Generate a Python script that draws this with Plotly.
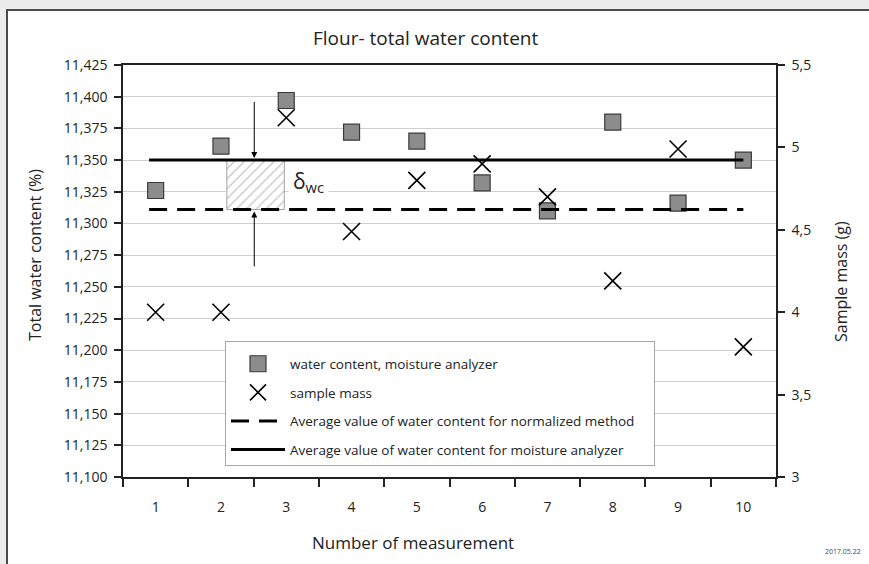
import plotly.graph_objects as go

measurements = [1, 2, 3, 4, 5, 6, 7, 8, 9, 10]
water_content = [11.326, 11.361, 11.397, 11.372, 11.365, 11.332, 11.310, 11.380, 11.316, 11.350]
sample_mass = [4.00, 4.00, 5.18, 4.49, 4.80, 4.90, 4.70, 4.19, 4.99, 3.79]
avg_normalized = 11.311
avg_analyzer = 11.350
line_x = [0.9, 10.0]
rect_x = [2.09, 2.97]
arrow_x = 2.51
arrow_top = 11.397
arrow_bottom = 11.265

FONT = "Open Sans"
W, H = 869, 564
L, R, T, B = 123, 93, 65, 87
PW, PH = W - L - R, H - T - B

def px(x):
    return (x - L) / PW

def py(y):
    return (H - B - y) / PH

fig = go.Figure()

# hatched delta rectangle
fig.add_trace(go.Scatter(
    x=[rect_x[0], rect_x[1], rect_x[1], rect_x[0], rect_x[0]],
    y=[avg_normalized, avg_normalized, avg_analyzer, avg_analyzer, avg_normalized],
    mode="lines", fill="toself", fillcolor="white",
    fillpattern=dict(shape="/", fgcolor="#8a8a8a", bgcolor="white", size=7, solidity=0.18),
    line=dict(color="#a0a0a0", width=1), showlegend=False, hoverinfo="skip"))

fig.add_trace(go.Scatter(
    x=measurements, y=water_content, mode="markers", name="water content, moisture analyzer",
    marker=dict(symbol="square", size=16, color="#8c8c8c", line=dict(color="#3a3a3a", width=1.2)),
    legendgroup="a"))

fig.add_trace(go.Scatter(
    x=measurements, y=sample_mass, mode="markers", name="sample mass", yaxis="y2",
    marker=dict(symbol="x-thin-open", size=17, color="black", line=dict(color="black", width=1.6)),
    legendgroup="b"))

fig.add_trace(go.Scatter(
    x=line_x, y=[avg_normalized, avg_normalized], mode="lines",
    name="Average value of water content for normalized method\u00a0\u00a0\u00a0\u00a0",
    line=dict(color="black", width=3, dash="18px,10px"), legendgroup="c"))

fig.add_trace(go.Scatter(
    x=line_x, y=[avg_analyzer, avg_analyzer], mode="lines",
    name="Average value of water content for moisture analyzer",
    line=dict(color="black", width=3), legendgroup="d"))

annotations = [
    dict(x=arrow_x, y=avg_analyzer, ax=arrow_x, ay=arrow_top, xref="x", yref="y",
         axref="x", ayref="y", showarrow=True, arrowhead=2, arrowsize=1.2, arrowwidth=1,
         arrowcolor="black", standoff=2, text=""),
    dict(x=arrow_x, y=avg_normalized, ax=arrow_x, ay=arrow_bottom, xref="x", yref="y",
         axref="x", ayref="y", showarrow=True, arrowhead=2, arrowsize=1.2, arrowwidth=1,
         arrowcolor="black", standoff=2, text=""),
    dict(x=3.03, y=11.333, xref="x", yref="y", xanchor="left", yanchor="middle",
         text="δ<sub>wc</sub>", showarrow=False, bgcolor="white", borderpad=4,
         font=dict(family=FONT, size=21, color="#222")),
    dict(x=px(425), y=py(38), xref="paper", yref="paper", xanchor="center", yanchor="middle",
         text="Flour- total water content", showarrow=False,
         font=dict(family=FONT, size=19, color="#222")),
    dict(x=px(413), y=py(542), xref="paper", yref="paper", xanchor="center", yanchor="middle",
         text="Number of measurement", showarrow=False,
         font=dict(family=FONT, size=17, color="#222")),
    dict(x=px(35), y=py(255), xref="paper", yref="paper", xanchor="center", yanchor="middle",
         text="Total water content (%)", showarrow=False, textangle=-90,
         font=dict(family=FONT, size=16, color="#222")),
    dict(x=px(841), y=py(282), xref="paper", yref="paper", xanchor="center", yanchor="middle",
         text="Sample mass (g)", showarrow=False, textangle=-90,
         font=dict(family=FONT, size=16, color="#222")),
    dict(x=px(843), y=py(551), xref="paper", yref="paper", xanchor="center", yanchor="middle",
         text="2017.05.22", showarrow=False, font=dict(family=FONT, size=7, color="#444")),
]

shapes = [
    dict(type="rect", xref="paper", yref="paper", x0=px(0), x1=px(W), y0=py(9), y1=py(0),
         fillcolor="#ececec", line=dict(width=0), layer="below"),
    dict(type="rect", xref="paper", yref="paper", x0=px(0), x1=px(6), y0=py(H), y1=py(0),
         fillcolor="#ececec", line=dict(width=0), layer="below"),
    dict(type="rect", xref="paper", yref="paper", x0=px(7), x1=px(W + 20), y0=py(H + 20), y1=py(10),
         fillcolor="rgba(0,0,0,0)", line=dict(color="#4a4a4a", width=2)),
]

fig.update_layout(
    width=W, height=H,
    margin=dict(l=L, r=R, t=T, b=B),
    paper_bgcolor="white", plot_bgcolor="white",
    separators=",.",
    font=dict(family=FONT, size=14, color="#222"),
    showlegend=True,
    legend=dict(x=px(225), y=py(341), xanchor="left", yanchor="top",
                bgcolor="white", bordercolor="#a8a8a8", borderwidth=1,
                font=dict(family=FONT, size=13.5, color="#222"),
                title=dict(text=" ", font=dict(size=5)),
                traceorder="grouped", tracegroupgap=8, itemwidth=54),
    xaxis=dict(range=[0.5, 10.5], tickvals=measurements, ticks="", showgrid=False,
               zeroline=False, showline=True, linecolor="#222", linewidth=1.5, mirror=True,
               ticklabelstandoff=16,
               minor=dict(tickmode="linear", tick0=0.5, dtick=1, ticks="outside", ticklen=8,
                          tickwidth=1.5, tickcolor="#222", showgrid=False)),
    yaxis=dict(range=[11.1, 11.425], dtick=0.025, tick0=11.1, tickformat=".3f",
               ticks="outside", ticklen=7, tickwidth=1.5, tickcolor="#222",
               showgrid=True, gridcolor="#cfcfcf", gridwidth=1, zeroline=False,
               showline=True, linecolor="#222", linewidth=1.5, ticklabelstandoff=4),
    yaxis2=dict(range=[3, 5.5], dtick=0.5, tick0=3, overlaying="y", side="right",
                ticks="outside", ticklen=7, tickwidth=1.5, tickcolor="#222",
                showgrid=False, zeroline=False, showline=True, linecolor="#222", linewidth=1.5,
                ticklabelstandoff=4),
    annotations=annotations,
    shapes=shapes,
)

fig.write_html("out.html")
